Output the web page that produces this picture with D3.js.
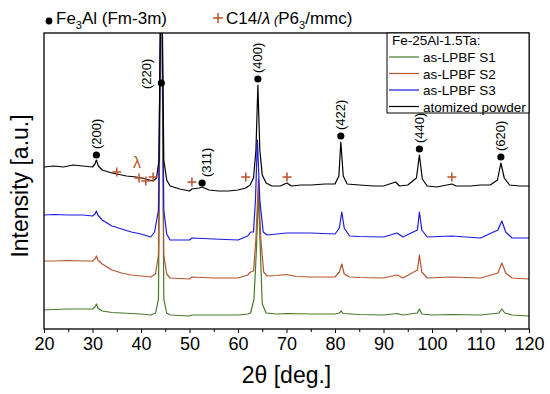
<!DOCTYPE html>
<html>
<head>
<meta charset="utf-8">
<title>XRD Fe-25Al-1.5Ta</title>
<script src="https://d3js.org/d3.v7.min.js"></script>
<style>
    body { margin: 0; padding: 0; background: #fff; }
    svg { display: block; font-family: "Liberation Sans", Arial, sans-serif; }
    .trace { fill: none; stroke-width: 1.2px; stroke-linejoin: round; }
</style>
</head>
<body>
<svg width="550" height="394"></svg>
<script>
// 2theta ticks
var majorTicks = [20, 30, 40, 50, 60, 70, 80, 90, 100, 110, 120];
var minorTicks = [25, 35, 45, 55, 65, 75, 85, 95, 105, 115];

// traces: [2theta, intensity a.u.] (offset already included)
var s1 = [[20,19],[22,19.5],[25,20],[28,20],[30,20],[30.5,22],[30.8,25],[31.1,21],[32,18],[34,16.5],[36,16],[38,15.5],[40,15],[42,14],[43,16],[43.6,30],[44.2,400],[44.7,30],[45.3,16],[46,14],[48,13.5],[50,13],[50.5,14],[55,14],[60,14],[62,15],[62.6,16],[63.3,30],[63.8,80],[64.2,135],[64.6,80],[65,25],[65.8,16],[68,15],[70,15.5],[75,15],[80,15],[80.9,16],[81.3,18],[81.7,15.5],[85,14.5],[90,14],[92.8,15.5],[94,14],[97,16],[97.4,20],[97.9,15],[100,14],[104,14.5],[110,14],[113.8,16],[114.4,20],[115,16],[116.5,14],[120,13]];
var s2 = [[20,68],[22,68],[25,68.5],[28,68],[30,68],[30.5,70],[30.8,73],[31.1,69],[32,65],[34,59],[36,56],[38,54],[40,53],[42,52],[43,55],[43.6,74],[44.2,400],[44.7,74],[45.3,55],[46,51],[48,50.5],[50,50],[50.5,52],[55,51],[60,51],[62,54],[62.6,57],[63.2,58],[63.7,90],[64.2,150],[64.7,90],[65.3,57],[66,53],[68,53.5],[70,54.5],[72,52.5],[75,52],[80,52],[80.9,57],[81.4,65],[81.9,55],[83,52],[85,51.5],[90,51],[92.8,54],[94,51],[97,59],[97.4,74],[97.9,57],[99,51],[104,52],[110,51],[113.6,56],[114.4,66],[115.2,56],[116.5,51],[120,50]];
var s3 = [[20,114],[22,114.5],[25,114],[28,114],[30,113],[30.5,115],[30.8,118],[31.1,114],[32,109],[34,103],[36,100],[38,97],[40,95],[42,92],[42.8,97],[43.6,119],[44.2,400],[44.7,119],[45.3,95],[46,89],[48,89],[50,89],[50.5,91],[55,90],[60,89],[62,93],[62.6,97],[63.2,97],[63.6,129],[64,189],[64.5,129],[65.2,97],[66,94],[68,95],[70,96],[75,96],[80,95],[80.9,101],[81.4,117],[81.9,101],[83,93],[85,92.5],[90,92],[92.8,96],[94,92],[97,99],[97.4,117],[97.9,99],[99,92],[104,93],[110,91],[113.6,99],[114.4,108],[115.2,97],[116.5,91],[120,91]];
var powder = [[20,162],[22,163],[24,162],[26,164],[28,163],[30,162],[30.5,165],[30.8,169],[31.2,163],[32,159],[34,156],[35,155],[37,153],[39,152],[41,150],[42.5,148],[43.2,151],[43.7,169],[44.2,400],[44.7,169],[45.3,149],[46,143],[48,140],[50,138],[50.5,140],[52,141],[52.6,142],[54,139],[56,138],[58,138],[60,139],[61.6,141],[62.5,144],[63.2,151],[63.7,179],[64.1,244],[64.5,179],[65,154],[65.8,146],[67,143],[68.7,143],[70.1,146],[71,143],[73,144],[75,144],[78,145],[80,145],[80.8,153],[81.2,187],[81.7,153],[82.5,145],[85,144],[88,143],[90,143],[92.5,147],[93.3,143],[95,144],[96.8,151],[97.4,174],[98,150],[99,143],[101,142],[104.1,145],[105,143],[108,143],[110,144],[112,144],[113.5,149],[114.2,166],[114.9,151],[116,144],[118,143],[120,143]];

var seriesNames = ['as-LPBF S1', 'as-LPBF S2', 'as-LPBF S3', 'atomized powder'];
var seriesColors = ['#467a2a', '#b4552e', '#1a1ae0', '#000000'];

// Fe3Al reflections (dot on powder trace)
var hkl = ['(200)', '(220)', '(311)', '(400)', '(422)', '(440)', '(620)'];
var hklPos = [[30.8,174],[44.2,246],[52.6,146],[64.1,250],[81.2,193],[97.4,180],[114.2,172]];
// C14 / lambda phase
var c14Pos = [[35,157],[39.6,151],[41,148],[42.5,152],[50.5,147],[61.6,152],[70.1,152],[104.1,152]];

var svg = d3.select('svg');
var margin = { left: 44, right: 21, top: 33, bottom: 65 };
var width = +svg.attr('width');
var height = +svg.attr('height');

var x = d3.scaleLinear().domain([20, 120]).range([margin.left, width - margin.right]);
var y = d3.scaleLinear().domain([0, 296]).range([height - margin.bottom, margin.top]);

svg.append('clipPath').attr('id', 'plotclip')
    .append('rect')
    .attr('x', x(20)).attr('y', y(296))
    .attr('width', x(120) - x(20)).attr('height', y(0) - y(296));

var line = d3.line()
    .x(function(d) { return x(d[0]); })
    .y(function(d) { return y(d[1]); });

var traces = [s1, s2, s3, powder];
svg.append('g').attr('clip-path', 'url(#plotclip)')
    .selectAll('path')
    .data(traces)
    .enter().append('path')
    .attr('class', 'trace')
    .attr('d', line)
    .style('stroke', function(d, i) { return seriesColors[i]; });

// frame
svg.append('rect')
    .attr('x', x(20)).attr('y', y(296))
    .attr('width', x(120) - x(20)).attr('height', y(0) - y(296))
    .attr('fill', 'none').attr('stroke', '#000').attr('stroke-width', 1.3);

// x axis
var xAxis = svg.append('g')
    .attr('transform', 'translate(0,' + y(0) + ')')
    .call(d3.axisBottom(x).tickValues(majorTicks).tickSizeInner(4).tickSizeOuter(0).tickPadding(4));
xAxis.select('.domain').remove();
xAxis.selectAll('text').style('font-size', '18px').style('font-family', '"Liberation Sans", Arial, sans-serif');
var xMinor = svg.append('g')
    .attr('transform', 'translate(0,' + y(0) + ')')
    .call(d3.axisBottom(x).tickValues(minorTicks).tickSizeInner(3).tickSizeOuter(0).tickFormat(''));
xMinor.select('.domain').remove();

svg.append('text')
    .attr('x', (x(20) + x(120)) / 2)
    .attr('y', 383)
    .style('text-anchor', 'middle')
    .style('font-size', '23px')
    .text('2\u03B8 [deg.]');

svg.append('text')
    .attr('transform', 'translate(28,' + ((y(0) + y(296)) / 2 + 5) + ') rotate(-90)')
    .style('text-anchor', 'middle')
    .style('font-size', '23px')
    .text('Intensity [a.u.]');

// reflection markers
var labelShift = { '(220)': -15, '(311)': 4 };
svg.selectAll('.hkl-dot')
    .data(hklPos)
    .enter().append('circle')
    .attr('class', 'hkl-dot')
    .attr('cx', function(d) { return x(d[0]); })
    .attr('cy', function(d) { return y(d[1]); })
    .attr('r', 3.6)
    .attr('fill', '#000');

svg.selectAll('.hkl-label')
    .data(hklPos)
    .enter().append('text')
    .attr('class', 'hkl-label')
    .attr('transform', function(d, i) {
        var dx = labelShift[hkl[i]] || 0;
        var yy = hkl[i] === '(220)' ? 89 : y(d[1]) - 6;
        return 'translate(' + (x(d[0]) + dx) + ',' + yy + ') rotate(-90)';
    })
    .attr('dy', '0.35em')
    .style('font-size', '13px')
    .text(function(d, i) { return hkl[i]; });

// C14 crosses
var crossColor = '#c0502c';
function cross(g, cx, cy, s) {
    g.append('path')
        .attr('d', 'M' + (cx - s) + ',' + cy + 'H' + (cx + s) + 'M' + cx + ',' + (cy - s) + 'V' + (cy + s))
        .attr('stroke', crossColor)
        .attr('stroke-width', 1.5)
        .attr('fill', 'none');
}
var crossG = svg.append('g');
c14Pos.forEach(function(d) { cross(crossG, x(d[0]), y(d[1]), 4.5); });

svg.append('text')
    .attr('x', 137).attr('y', 168)
    .style('text-anchor', 'middle')
    .style('font-size', '16px')
    .style('fill', '#b4552e')
    .text('\u03BB');

// header phase legend
svg.append('circle').attr('cx', 49).attr('cy', 21).attr('r', 3.4).attr('fill', '#000');
var t1 = svg.append('text').attr('x', 56).attr('y', 24).style('font-size', '17px');
t1.append('tspan').text('Fe');
t1.append('tspan').attr('dy', 5).style('font-size', '11px').text('3');
t1.append('tspan').attr('dy', -5).text('Al (Fm-3m)');

cross(svg, 218, 18, 5);
var t2 = svg.append('text').attr('x', 226).attr('y', 24).style('font-size', '17px');
t2.append('tspan').text('C14/');
t2.append('tspan').style('font-style', 'italic').text('\u03BB');
t2.append('tspan').style('font-style', 'italic').style('font-size', '13px').text(' (');
t2.append('tspan').text('P6');
t2.append('tspan').attr('dy', 5).style('font-size', '11px').text('3');
t2.append('tspan').attr('dy', -5).text('/mmc)');

// series legend
var lg = svg.append('g');
lg.append('rect')
    .attr('x', 387).attr('y', y(296))
    .attr('width', x(120) - 387).attr('height', 80)
    .attr('fill', '#fff').attr('stroke', '#000').attr('stroke-width', 1);
lg.append('text').attr('x', 392).attr('y', 45).style('font-size', '13.5px').text('Fe-25Al-1.5Ta:');
seriesNames.forEach(function(name, i) {
    var yy = 57 + i * 16.5;
    lg.append('line')
        .attr('x1', 389).attr('x2', 419)
        .attr('y1', yy).attr('y2', yy)
        .attr('stroke', seriesColors[i]).attr('stroke-width', 1.2);
    lg.append('text').attr('x', 423).attr('y', yy + 5).style('font-size', '13.5px').text(name);
});
</script>
</body>
</html>
